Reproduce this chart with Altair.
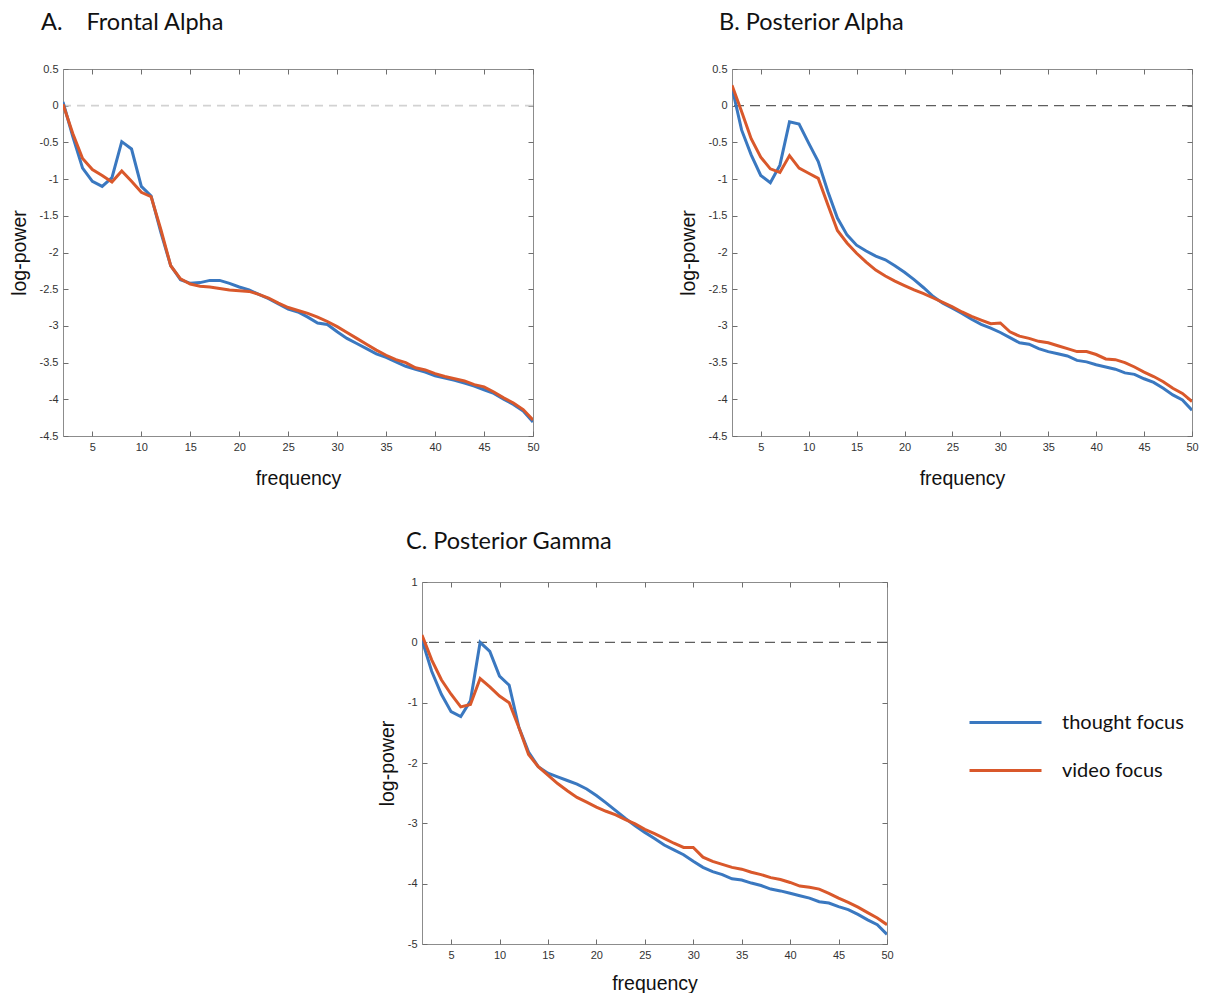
import altair as alt
import pandas as pd

freq = list(range(2, 51))
series_names = ["thought focus", "video focus"]
colors = ["#3a78c0", "#d9582b"]

# Panel A: Frontal Alpha
a_thought = [0.05, -0.42, -0.85, -1.03, -1.10, -0.98, -0.49, -0.59, -1.10, -1.23,
             -1.73, -2.18, -2.37, -2.42, -2.41, -2.38, -2.38, -2.42, -2.47, -2.51,
             -2.57, -2.63, -2.70, -2.77, -2.81, -2.88, -2.96, -2.98, -3.08, -3.17,
             -3.24, -3.31, -3.38, -3.43, -3.49, -3.55, -3.59, -3.63, -3.68, -3.71,
             -3.74, -3.78, -3.82, -3.87, -3.92, -4.00, -4.07, -4.16, -4.31]
a_video = [0.02, -0.38, -0.72, -0.87, -0.95, -1.04, -0.89, -1.03, -1.18, -1.24,
           -1.69, -2.18, -2.36, -2.43, -2.46, -2.47, -2.49, -2.51, -2.52, -2.53,
           -2.57, -2.62, -2.69, -2.75, -2.79, -2.83, -2.88, -2.94, -3.01, -3.09,
           -3.17, -3.25, -3.33, -3.40, -3.46, -3.50, -3.57, -3.60, -3.65, -3.69,
           -3.72, -3.75, -3.80, -3.83, -3.90, -3.98, -4.05, -4.14, -4.28]

# Panel B: Posterior Alpha
b_thought = [0.25, -0.33, -0.67, -0.95, -1.05, -0.81, -0.22, -0.25, -0.51, -0.76,
             -1.17, -1.53, -1.76, -1.90, -1.98, -2.05, -2.10, -2.18, -2.27, -2.37,
             -2.48, -2.60, -2.69, -2.76, -2.83, -2.91, -2.98, -3.03, -3.09, -3.16,
             -3.23, -3.25, -3.31, -3.35, -3.38, -3.41, -3.47, -3.49, -3.53, -3.56,
             -3.59, -3.64, -3.66, -3.72, -3.77, -3.85, -3.94, -4.01, -4.15]
b_video = [0.28, -0.08, -0.45, -0.70, -0.86, -0.91, -0.68, -0.85, -0.92, -0.99,
           -1.35, -1.70, -1.87, -2.01, -2.13, -2.24, -2.32, -2.39, -2.45, -2.51,
           -2.56, -2.62, -2.68, -2.74, -2.81, -2.87, -2.92, -2.97, -2.96, -3.08,
           -3.14, -3.17, -3.21, -3.23, -3.27, -3.31, -3.35, -3.35, -3.39, -3.45,
           -3.46, -3.50, -3.56, -3.63, -3.69, -3.76, -3.85, -3.92, -4.03]

# Panel C: Posterior Gamma
c_thought = [0.04, -0.48, -0.86, -1.15, -1.23, -0.97, 0.00, -0.15, -0.56, -0.71,
             -1.41, -1.82, -2.06, -2.17, -2.23, -2.29, -2.35, -2.43, -2.54, -2.66,
             -2.79, -2.92, -3.04, -3.15, -3.25, -3.36, -3.44, -3.52, -3.63, -3.73,
             -3.80, -3.85, -3.92, -3.94, -3.99, -4.03, -4.09, -4.12, -4.16, -4.20,
             -4.24, -4.30, -4.32, -4.38, -4.43, -4.51, -4.60, -4.68, -4.84]
c_video = [0.12, -0.29, -0.62, -0.86, -1.07, -1.03, -0.60, -0.74, -0.89, -1.00,
           -1.41, -1.86, -2.06, -2.20, -2.34, -2.46, -2.57, -2.65, -2.73, -2.80,
           -2.86, -2.94, -3.01, -3.10, -3.17, -3.25, -3.33, -3.40, -3.40, -3.56,
           -3.63, -3.68, -3.73, -3.76, -3.81, -3.85, -3.90, -3.93, -3.98, -4.04,
           -4.06, -4.09, -4.16, -4.24, -4.31, -4.39, -4.48, -4.57, -4.68]

x_ticks = [5, 10, 15, 20, 25, 30, 35, 40, 45, 50]
ab_y_ticks = [0.5, 0, -0.5, -1, -1.5, -2, -2.5, -3, -3.5, -4, -4.5]
c_y_ticks = [1, 0, -1, -2, -3, -4, -5]

TICK_FONT = "Liberation Sans"
TITLE_FONT = "Lato"
BOX = "#8c8c8c"
TICKC = "#6e6e6e"


def make_df(thought, video):
    rows = []
    for name, vals in zip(series_names, [thought, video]):
        for f, v in zip(freq, vals):
            rows.append({"frequency": f, "power": v, "series": name})
    return pd.DataFrame(rows)


def panel(thought, video, title, dx, offset, ydom, yticks, w, h,
          zero_color, zero_dash, zero_width, legend, xpad):
    df = make_df(thought, video)
    x = alt.X(
        "frequency:Q",
        scale=alt.Scale(domain=[2, 50], nice=False, zero=False),
        axis=alt.Axis(
            values=x_ticks, title="frequency", grid=True,
            gridDash=[5, h - 10, 5, 600], gridColor=TICKC, gridWidth=1,
            ticks=False, domain=False, labelFlush=False, labelOverlap=False,
            labelFont=TICK_FONT, labelFontSize=11, labelColor="#333333",
            labelPadding=5, titleFont=TICK_FONT, titleFontSize=19.5,
            titleFontWeight="normal", titleColor="#111111", titlePadding=xpad,
        ),
    )
    y = alt.Y(
        "power:Q",
        scale=alt.Scale(domain=ydom, nice=False, zero=False),
        axis=alt.Axis(
            values=yticks, title="log-power", grid=True,
            gridDash=[5, w - 10, 5, 800], gridColor=TICKC, gridWidth=1,
            ticks=False, domain=False, labelFlush=False, labelOverlap=False,
            labelExpr="datum.value + ''",
            labelFont=TICK_FONT, labelFontSize=11, labelColor="#333333",
            labelPadding=5, titleFont=TICK_FONT, titleFontSize=19.5,
            titleFontWeight="normal", titleColor="#111111", titlePadding=10,
        ),
    )
    color = alt.Color(
        "series:N",
        scale=alt.Scale(domain=series_names, range=colors),
        legend=legend,
    )
    lines = alt.Chart(df).mark_line(strokeWidth=3, clip=True).encode(
        x=x, y=y, color=color
    )
    zero = alt.Chart(pd.DataFrame({"power": [0]})).mark_rule(
        color=zero_color, strokeWidth=zero_width, strokeDash=zero_dash
    ).encode(y=y)
    return alt.layer(zero, lines).properties(
        width=w, height=h,
        title=alt.TitleParams(
            text=title, anchor="start", frame="group", dx=dx, offset=offset,
            font=TITLE_FONT, fontSize=23.5, fontWeight="normal", color="#111111",
        ),
    )


chart_a = panel(a_thought, a_video, "A.\u00a0\u00a0\u00a0\u00a0Frontal Alpha", -22, 29,
                [-4.5, 0.5], ab_y_ticks, 470, 367, "#d2d2d2", [8, 6], 1.8, None, 17)
chart_b = panel(b_thought, b_video, "B. Posterior Alpha", -13, 29,
                [-4.5, 0.5], ab_y_ticks, 460, 367, "#5e5e5e", [10, 6], 1.2, None, 17)

legend_c = alt.Legend(
    orient="none", legendX=570, legendY=127, title=None,
    symbolType="M-3,0H3", symbolSize=576, symbolStrokeWidth=3,
    labelFont=TITLE_FONT, labelFontSize=20, labelColor="#111111",
    labelOffset=43, rowPadding=24, padding=0,
)
chart_c = panel(c_thought, c_video, "C. Posterior Gamma", -16, 23,
                [-5, 1], c_y_ticks, 465, 362, "#5e5e5e", [10, 6], 1.2, legend_c, 14)

spacer = alt.Chart(pd.DataFrame({"s": [0]})).mark_point(opacity=0).encode(
    x=alt.value(0), y=alt.value(0)
).properties(width=312, height=10, view=alt.ViewBackground(stroke="transparent"))

top = alt.hconcat(chart_a, chart_b, spacing=137).resolve_scale(color="independent")
bottom = alt.hconcat(spacer, chart_c, spacing=0).resolve_scale(color="independent")

chart = alt.vconcat(top, bottom, spacing=41).resolve_scale(
    color="independent"
).properties(
    padding={"left": 0, "top": 2, "right": 0, "bottom": 0}
).configure_view(
    stroke=BOX, strokeWidth=1
)

chart.save("out.html", embed_options={"renderer": "svg", "actions": False})
